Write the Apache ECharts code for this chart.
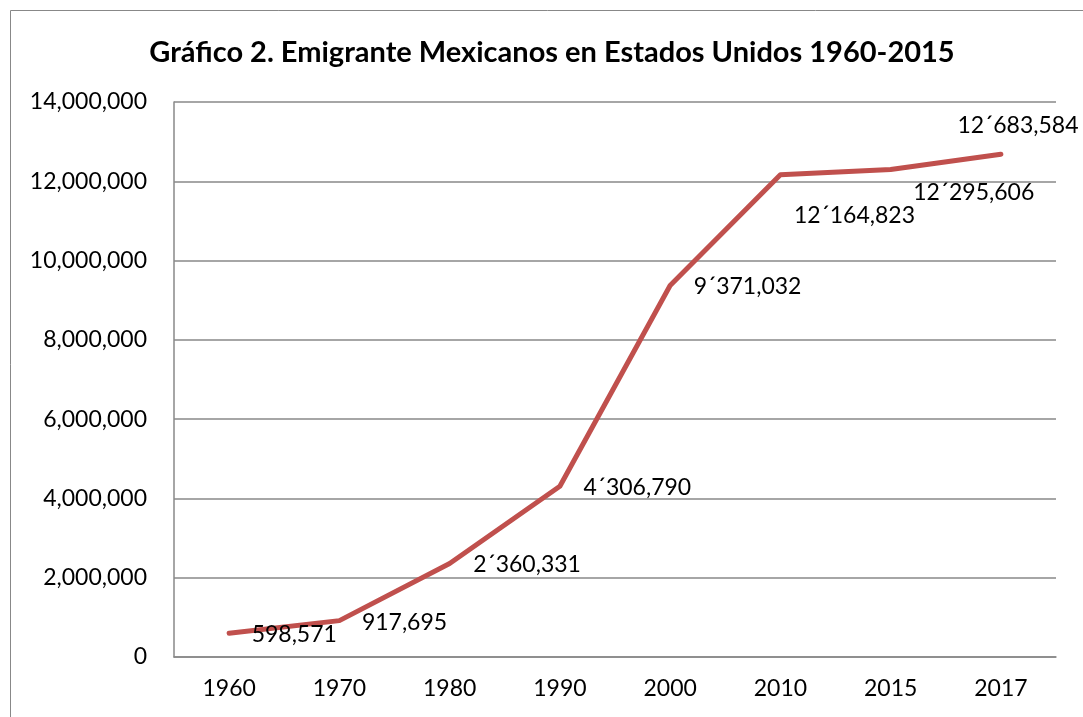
<!DOCTYPE html>
<html>
<head>
<meta charset="utf-8">
<script src="https://cdn.jsdelivr.net/npm/echarts@6/dist/echarts.min.js"></script>
<style>html,body{margin:0;padding:0;background:#fff}#c{width:1083px;height:717px}</style>
</head>
<body>
<div id="c"></div>
<script>
const categories = ['1960','1970','1980','1990','2000','2010','2015','2017'];
const values = [598571, 917695, 2360331, 4306790, 9371032, 12164823, 12295606, 12683584];
const labelTexts = ['598,571','917,695','2´360,331','4´306,790','9´371,032','12´164,823','12´295,606','12´683,584'];
const labelOffsets = [[22,1],[22,2],[23,1],[23,1],[23,1],[13,41],[22,23],[-44,-29]];

const FONT = 'Lato';
const chart = echarts.init(document.getElementById('c'));
chart.setOption({
  animation: false,
  backgroundColor: '#fff',
  title: {
    text: 'Gráfico 2. Emigrante Mexicanos en Estados Unidos 1960-2015',
    left: 547, top: 33, textAlign: 'center',
    textStyle: {fontFamily: FONT, fontWeight: 'bold', fontSize: 29, color: '#000'}
  },
  graphic: [{
    type: 'rect', shape: {x: 10.5, y: 10.5, width: 1200, height: 900},
    style: {fill: 'none', stroke: '#888', lineWidth: 1}, silent: true
  }],
  grid: {left: 174, right: 27, top: 102, bottom: 60},
  xAxis: {
    type: 'category', data: categories, boundaryGap: true,
    axisLine: {lineStyle: {color: '#888', width: 1.5}},
    axisTick: {show: false},
    axisLabel: {fontFamily: FONT, fontSize: 23, color: '#000', margin: 20}
  },
  yAxis: {
    type: 'value', min: 0, max: 14000000, interval: 2000000,
    axisLine: {show: true, lineStyle: {color: '#888', width: 1.5}},
    axisTick: {show: false},
    splitLine: {lineStyle: {color: '#888', width: 1.5}},
    axisLabel: {fontFamily: FONT, fontSize: 23, color: '#000', margin: 27,
      formatter: v => v.toLocaleString('en-US')}
  },
  series: [{
    type: 'line',
    data: values.map((v, i) => ({
      value: v,
      label: {show: true, position: 'right', distance: 0, offset: labelOffsets[i],
        formatter: () => labelTexts[i]}
    })),
    showSymbol: true, symbol: 'circle', symbolSize: 1,
    lineStyle: {color: '#C0504D', width: 5, cap: 'round', join: 'round'},
    itemStyle: {color: '#C0504D'},
    label: {show: true, fontFamily: FONT, fontSize: 23, color: '#000', align: 'left', verticalAlign: 'middle'}
  }]
});
</script>
</body>
</html>
